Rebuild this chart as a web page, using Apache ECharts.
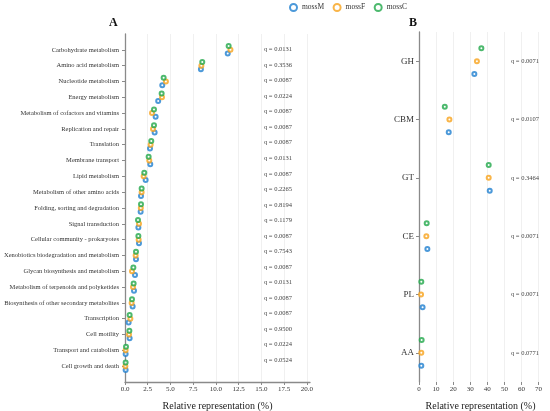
<!DOCTYPE html>
<html>
<head>
<meta charset="utf-8">
<script src="https://cdn.jsdelivr.net/npm/echarts@6/dist/echarts.min.js"></script>
<style>
  html, body { margin: 0; padding: 0; background: #fff; }
  #chart { width: 550px; height: 411px; }
</style>
</head>
<body>
<div id="chart"></div>
<script>
// panel A: KEGG level-2 pathways
const pathways = [
  'Carbohydrate metabolism', 'Amino acid metabolism', 'Nucleotide metabolism',
  'Energy metabolism', 'Metabolism of cofactors and vitamins', 'Replication and repair',
  'Translation', 'Membrane transport', 'Lipid metabolism',
  'Metabolism of other amino acids', 'Folding, sorting and degradation', 'Signal transduction',
  'Cellular community - prokaryotes', 'Xenobiotics biodegradation and metabolism',
  'Glycan biosynthesis and metabolism', 'Metabolism of terpenoids and polyketides',
  'Biosynthesis of other secondary metabolites', 'Transcription', 'Cell motility',
  'Transport and catabolism', 'Cell growth and death'
]
const pathwayQ = [
  '0.0131', '0.3536', '0.0087', '0.0224', '0.0087', '0.0087', '0.0087', '0.0131',
  '0.0087', '0.2265', '0.8194', '0.1179', '0.0087', '0.7543', '0.0087', '0.0131',
  '0.0087', '0.0087', '0.9500', '0.0224', '0.0524'
]
const pathM = [11.3, 8.35, 4.1, 3.65, 3.37, 3.26, 2.75, 2.78, 2.27, 1.76, 1.72, 1.47, 1.54, 1.21, 1.1, 0.99, 0.84, 0.4, 0.51, 0.07, 0.07]
const pathF = [11.6, 8.4, 4.5, 4.07, 2.97, 3.08, 2.82, 2.67, 2.05, 1.83, 1.74, 1.54, 1.5, 1.17, 0.77, 0.88, 0.73, 0.59, 0.44, 0.07, 0.04]
const pathC = [11.4, 8.5, 4.25, 4.03, 3.19, 3.19, 2.89, 2.6, 2.12, 1.83, 1.76, 1.43, 1.47, 1.21, 0.92, 0.95, 0.77, 0.51, 0.48, 0.11, 0.07]
const ticksA = [0, 2.5, 5, 7.5, 10, 12.5, 15, 17.5, 20]

// panel B: CAZyme classes
const cazy = ['GH', 'CBM', 'GT', 'CE', 'PL', 'AA']
const cazyQ = ['0.0071', '0.0107', '0.3464', '0.0071', '0.0071', '0.0771']
const cazyM = [32.4, 17.4, 41.4, 4.9, 2.1, 1.35]
const cazyF = [33.9, 17.8, 40.8, 4.3, 1.2, 1.35]
const cazyC = [36.5, 15.1, 40.8, 4.5, 1.35, 1.55]
const ticksB = [0, 10, 20, 30, 40, 50, 60, 70]

const colors = { mossM: '#1f7fd0', mossF: '#f7a21b', mossC: '#21a84a' }
const serif = 'Liberation Serif'
const idx = pathways.map((_, i) => i)

const chart = echarts.init(document.getElementById('chart'))

function xAxisOf(grid, max, interval, ticks, fmt) {
  return {
    type: 'value', gridIndex: grid, min: 0, max: max, interval: interval,
    name: 'Relative representation (%)', nameLocation: 'middle', nameGap: 19,
    nameTextStyle: { fontFamily: serif, fontSize: 10, color: '#222' },
    axisLine: { onZero: false, lineStyle: { color: '#8a8a8a', width: 1.3 } },
    axisTick: { show: true, length: 3, customValues: ticks, lineStyle: { color: '#8a8a8a' } },
    axisLabel: { customValues: ticks, formatter: fmt, fontFamily: serif, fontSize: 7, color: '#333', margin: 4 },
    splitLine: { show: true, lineStyle: { color: '#ececec', width: 0.8 } }
  }
}

function dots(name, grid, vals, dy) {
  return {
    name: name, type: 'scatter', xAxisIndex: grid, yAxisIndex: grid * 2,
    symbol: 'emptyCircle', symbolSize: 4, symbolOffset: [0, dy],
    itemStyle: { color: colors[name], borderWidth: 1.3 },
    data: vals.map((v, i) => [v, i])
  }
}

chart.setOption({
  animation: false,
  title: [
    { text: 'A', left: 104, top: 12, textStyle: { fontFamily: serif, fontSize: 12, fontWeight: 'bold', color: '#111' } },
    { text: 'B', left: 404, top: 12, textStyle: { fontFamily: serif, fontSize: 12, fontWeight: 'bold', color: '#111' } }
  ],
  legend: {
    data: ['mossM', 'mossF', 'mossC'], top: -2, left: 284,
    itemWidth: 7, itemHeight: 7, itemGap: 8.5,
    textStyle: { fontFamily: serif, fontSize: 7.5, color: '#333' }
  },
  grid: [
    { left: 125, top: 34, width: 185, height: 348, outerBoundsMode: 'none' },
    { left: 419, top: 32, width: 123, height: 350, outerBoundsMode: 'none' }
  ],
  xAxis: [
    xAxisOf(0, 20.35, 2.5, ticksA, v => v.toFixed(1)),
    xAxisOf(1, 72, 10, ticksB, v => String(v))
  ],
  yAxis: [
    {
      type: 'value', gridIndex: 0, inverse: true, min: -1, max: 21, interval: 1,
      axisLine: { show: true, onZero: false, lineStyle: { color: '#8a8a8a', width: 1.3 } },
      axisTick: { show: true, length: 3, customValues: idx, lineStyle: { color: '#8a8a8a' } },
      axisLabel: { customValues: idx, formatter: v => pathways[v] || '', fontFamily: serif, fontSize: 6.5, color: '#333', margin: 6 },
      splitLine: { show: false }
    },
    {
      type: 'value', gridIndex: 0, inverse: true, position: 'right', min: -1, max: 21.4, interval: 1,
      axisLine: { show: false }, axisTick: { show: false }, splitLine: { show: false },
      axisLabel: { inside: true, customValues: idx, formatter: v => pathwayQ[v] ? 'q = ' + pathwayQ[v] : '', fontFamily: serif, fontSize: 6.5, color: '#444', margin: 18 }
    },
    {
      type: 'category', gridIndex: 1, inverse: true, data: cazy,
      axisLine: { show: true, onZero: false, lineStyle: { color: '#8a8a8a', width: 1.3 } },
      axisTick: { show: true, alignWithLabel: true, length: 3, lineStyle: { color: '#8a8a8a' } },
      axisLabel: { fontFamily: serif, fontSize: 9, color: '#333', margin: 5 },
      splitLine: { show: false }
    },
    {
      type: 'category', gridIndex: 1, inverse: true, position: 'right', data: cazy,
      axisLine: { show: false }, axisTick: { show: false }, splitLine: { show: false },
      axisLabel: { inside: true, formatter: (v, i) => 'q = ' + cazyQ[i], fontFamily: serif, fontSize: 6.5, color: '#444', margin: 3 }
    }
  ],
  series: [
    dots('mossM', 0, pathM, 3.7),
    dots('mossF', 0, pathF, 0),
    dots('mossC', 0, pathC, -3.7),
    dots('mossM', 1, cazyM, 12.8),
    dots('mossF', 1, cazyF, 0),
    dots('mossC', 1, cazyC, -12.8)
  ]
})

window.addEventListener('resize', () => chart.resize())
</script>
</body>
</html>
